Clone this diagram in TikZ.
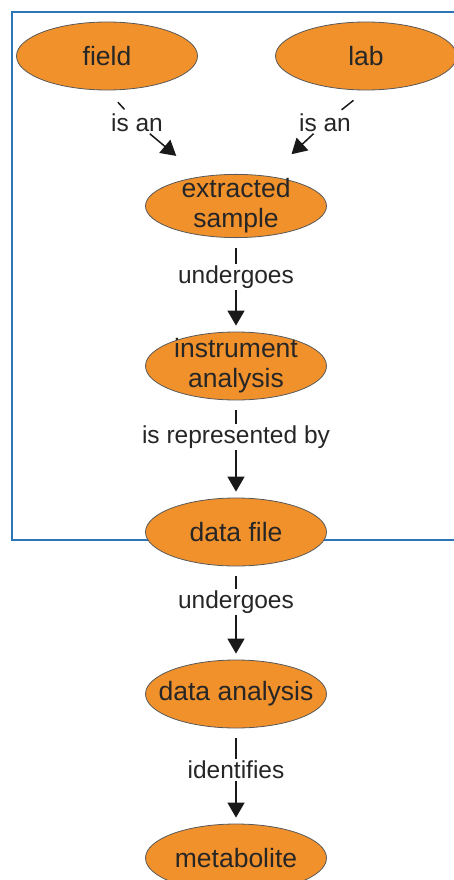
\documentclass[tikz,border=0pt]{standalone}
\usepackage{fontspec}
\setmainfont{Liberation Sans}
\usetikzlibrary{arrows.meta,shapes.geometric,positioning}
\definecolor{conceptorange}{RGB}{241,145,44}
\definecolor{frameblue}{RGB}{46,117,182}

\begin{document}
\begin{tikzpicture}[x=1pt,y=-1pt,
	concept/.style={ellipse,draw=black!65,fill=conceptorange,line width=0.8pt,minimum width=181pt,minimum height=68pt,inner sep=0pt,align=center,text=black!85,font=\fontsize{26.5}{30}\selectfont},
	phrase/.style={fill=white,inner sep=1.5pt,text=black!85,font=\fontsize{24.5}{28}\selectfont},
	link/.style={line width=1.5pt,black!90,shorten <=10pt},
	arrowlink/.style={line width=1.5pt,black!90,-{Triangle[width=17pt,length=15pt]},shorten >=6pt}]

	\useasboundingbox (0,0) rectangle (454,880);
	\clip (0,0) rectangle (454,880);

	% frame round the sampling part
	\draw [frameblue,line width=1.5pt] (12,12) rectangle (480,540);

	\node [concept] at (107,56)		(field)		{field};
	\node [concept] at (366,56)		(lab)		{lab};
	\node [concept,minimum height=62pt,inner ysep=-5pt] at (236,206)	(sample)	{extracted\\sample};
	\node [concept,inner ysep=-5pt] at (236,366)	(instrument)	{instrument\\analysis};
	\node [concept] at (236,532)	(datafile)	{data file};
	\node [concept,inner xsep=-14pt] at (236,694)	(analysis)	{data analysis};
	\node [concept] at (236,858)	(metabolite)	{metabolite};

	\node [phrase] at (137,123)		(isan_l)		{is an};
	\node [phrase] at (325,123)		(isan_r)		{is an};
	\node [phrase] at (236,277)		(undergoes_a)	{undergoes};
	\node [phrase] at (236,437)		(represented)	{is represented by};
	\node [phrase] at (236,602)		(undergoes_b)	{undergoes};
	\node [phrase] at (236,770)		(identifies)	{identifies};

	\draw [link,shorten <=16pt,shorten >=4pt] (field.south) -- (isan_l);
	\draw [link,shorten <=16pt,shorten >=4pt] (lab.south) -- (isan_r);
	\draw [arrowlink,shorten >=32pt] (isan_l) -- (sample);
	\draw [arrowlink,shorten >=32pt] (isan_r) -- (sample);

	\draw [link] (sample) -- (undergoes_a);
	\draw [arrowlink] (undergoes_a) -- (instrument);
	\draw [link] (instrument) -- (represented);
	\draw [arrowlink] (represented) -- (datafile);
	\draw [link] (datafile) -- (undergoes_b);
	\draw [arrowlink] (undergoes_b) -- (analysis);
	\draw [link] (analysis) -- (identifies);
	\draw [arrowlink] (identifies) -- (metabolite);

\end{tikzpicture}
\end{document}
